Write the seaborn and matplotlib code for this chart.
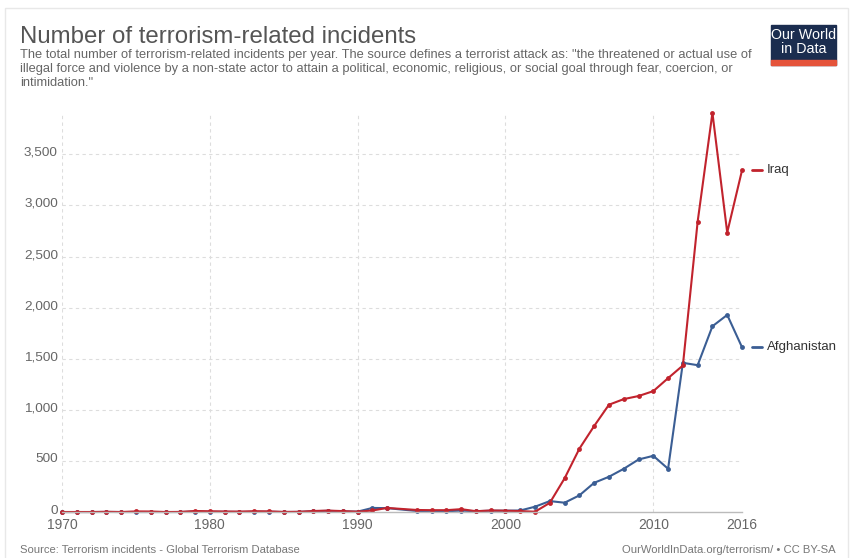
import pandas as pd
import matplotlib
matplotlib.use("Agg")
import matplotlib.pyplot as plt
import matplotlib.transforms as mtransforms
import seaborn as sns
from matplotlib.patches import Rectangle

# GTD has no 1993 data, so the year is skipped
years = list(range(1970, 1993)) + list(range(1994, 2017))

iraq = [0, 0, 0, 2, 0, 6, 5, 0, 1, 10, 7, 5, 4, 8, 6, 1, 2, 10, 14, 9, 3, 15, 40,
        20, 18, 18, 28, 8, 15, 13, 9, 3, 90, 330, 620, 842, 1050, 1105, 1135, 1183,
        1310, 1434, 2842, 3906, 2735, 3343]
afghanistan = [0, 0, 0, 1, 0, 0, 0, 0, 0, 5, 3, 2, 1, 2, 3, 0, 1, 8, 12, 6, 4, 40, 38,
               10, 11, 8, 14, 8, 13, 13, 15, 52, 107, 91, 163, 286, 345, 423, 514, 550,
               423, 1460, 1437, 1818, 1929, 1613]

countries = ["Afghanistan", "Iraq"]
colors = {"Afghanistan": "#3b5e94", "Iraq": "#c1232d"}
xticks = [1970, 1980, 1990, 2000, 2010, 2016]
yticks = [0, 500, 1000, 1500, 2000, 2500, 3000, 3500]

df = pd.DataFrame({
    "year": years * 2,
    "incidents": afghanistan + iraq,
    "country": ["Afghanistan"] * len(years) + ["Iraq"] * len(years),
})

sns.set_style("white")
plt.rcParams["font.family"] = ["Liberation Sans", "DejaVu Sans"]

fig = plt.figure(figsize=(8.58, 5.58), dpi=100)
ax = fig.add_axes([0.0723, 0.0824, 0.7925, 0.7151])

sns.lineplot(data=df, x="year", y="incidents", hue="country", hue_order=countries,
             palette=colors, marker="o", markersize=3.5, markeredgewidth=0,
             linewidth=1.5, legend=False, ax=ax, clip_on=False)

ax.set_xlim(1970, 2016)
ax.set_ylim(0, 3905)
ax.set_xticks(xticks)
ax.set_yticks(yticks)
ax.set_yticklabels([f"{v:,}" for v in yticks])
ax.set_xlabel("")
ax.set_ylabel("")
ax.tick_params(axis="y", length=0, labelsize=9.7, colors="#666666", pad=3)
ax.tick_params(axis="x", length=0, labelsize=10, colors="#666666", pad=4)

# y labels sit a little above their grid lines, like the original
shift = mtransforms.ScaledTranslation(0, 3 / 100, fig.dpi_scale_trans)
for lab in ax.get_yticklabels():
    lab.set_transform(lab.get_transform() + shift)

for v in yticks[1:]:
    ax.axhline(v, color="#dddddd", linestyle=(0, (3, 3)), linewidth=0.8, zorder=0)
for x in xticks[:-1]:
    ax.axvline(x, color="#dddddd", linestyle=(0, (3, 3)), linewidth=0.8, zorder=0)

for s in ["top", "right", "left"]:
    ax.spines[s].set_visible(False)
ax.spines["bottom"].set_color("#bbbbbb")
ax.spines["bottom"].set_linewidth(1)

# end-of-line labels
for name, vals in [("Iraq", iraq), ("Afghanistan", afghanistan)]:
    ax.plot([1.015, 1.029], [vals[-1], vals[-1]], color=colors[name], linewidth=2,
            transform=ax.get_yaxis_transform(), clip_on=False)
    ax.text(1.036, vals[-1], name, transform=ax.get_yaxis_transform(), va="center",
            ha="left", fontsize=9.5, color="#333333")

# title block
fig.text(20 / 858, 1 - 37 / 558, "Number of terrorism-related incidents", fontsize=17.3,
         color="#555555", va="center", ha="left")
subtitle = ('The total number of terrorism-related incidents per year. The source defines a terrorist attack as: "the threatened or actual use of\n'
            'illegal force and violence by a non-state actor to attain a political, economic, religious, or social goal through fear, coercion, or\n'
            'intimidation."')
fig.text(20 / 858, 1 - 49 / 558, subtitle, fontsize=9.25, color="#666666", va="top",
         ha="left", linespacing=1.25)

# logo
fig.patches.append(Rectangle((771 / 858, 1 - 65 / 558), 65 / 858, 40 / 558,
                             transform=fig.transFigure, color="#1b2d4f", zorder=1))
fig.patches.append(Rectangle((771 / 858, 1 - 65 / 558), 65 / 858, 5 / 558,
                             transform=fig.transFigure, color="#e5533a", zorder=2))
fig.text(803.5 / 858, 1 - 42 / 558, "Our World\nin Data", fontsize=10.3, color="white",
         ha="center", va="center", linespacing=0.95, zorder=3)

# footer
fig.text(20 / 858, 1 - 550 / 558, "Source: Terrorism incidents - Global Terrorism Database",
         fontsize=8.1, color="#777777", ha="left", va="center")
fig.text(836 / 858, 1 - 550 / 558, "OurWorldInData.org/terrorism/ \u2022 CC BY-SA",
         fontsize=8.1, color="#777777", ha="right", va="center")

# card border
fig.patches.append(Rectangle((5 / 858, -0.01), 843 / 858, 1 - 8 / 558 + 0.01,
                             transform=fig.transFigure, fill=False, edgecolor="#e8e8e8",
                             linewidth=1, zorder=0))

fig.savefig("out.png", dpi=100)
